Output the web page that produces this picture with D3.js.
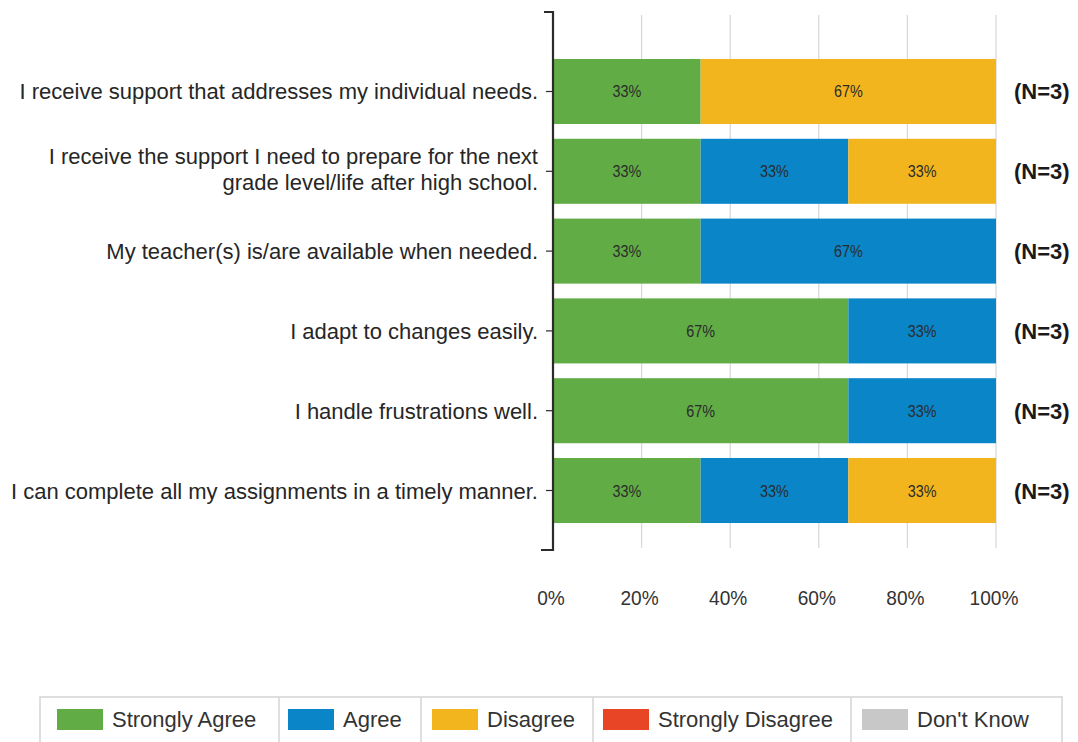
<!DOCTYPE html>
<html><head><meta charset="utf-8">
<script src="https://cdn.jsdelivr.net/npm/d3@7"></script>
<style>
html,body{margin:0;padding:0;background:#fff;}
svg{display:block;font-family:"Liberation Sans",Arial,sans-serif;}
</style></head>
<body>
<svg id="chart" width="1078" height="742"></svg>
<script>
const categories = [
  ["I receive support that addresses my individual needs."],
  ["I receive the support I need to prepare for the next","grade level/life after high school."],
  ["My teacher(s) is/are available when needed."],
  ["I adapt to changes easily."],
  ["I handle frustrations well."],
  ["I can complete all my assignments in a timely manner."]
];
const seriesNames = ["Strongly Agree","Agree","Disagree","Strongly Disagree","Don't Know"];
const seriesColors = ["#62ac46","#0a85c8","#f2b51e","#e84526","#c8c8c8"];
const stronglyAgree = [33.33,33.33,33.33,66.67,66.67,33.33];
const agree = [0,33.33,66.67,33.33,33.33,33.33];
const disagree = [66.67,33.33,0,0,0,33.33];
const stronglyDisagree = [0,0,0,0,0,0];
const dontKnow = [0,0,0,0,0,0];
const nLabels = ["(N=3)","(N=3)","(N=3)","(N=3)","(N=3)","(N=3)"];
const xTicks = [0,20,40,60,80,100];

const svg = d3.select("#chart");
const x0 = 553, x1 = 996, yTop = 12, yBot = 550;
const x = d3.scaleLinear().domain([0,100]).range([x0,x1]);
const idx = d3.range(categories.length);
const y = d3.scaleBand().domain(idx).range([51,531]).paddingInner(0.185).paddingOuter(0.1);

const rows = idx.map(i => ({i, v:[stronglyAgree[i],agree[i],disagree[i],stronglyDisagree[i],dontKnow[i]]}));
const stack = d3.stack().keys([0,1,2,3,4]).value((d,k)=>d.v[k]);
const stacked = stack(rows);

function narrowText(sel, px, py, sx){
  return sel.append("text").attr("transform",`translate(${px},${py}) scale(${sx},1)`);
}

// grid
svg.append("g").selectAll("line").data(xTicks.slice(1)).join("line")
  .attr("x1",d=>x(d)).attr("x2",d=>x(d)).attr("y1",yTop+3).attr("y2",yBot-2)
  .attr("stroke","#d9d9d9").attr("stroke-width",1.3);

// bars
const g = svg.append("g");
stacked.forEach((s,k)=>{
  const segs = s.filter(d=>d[1]-d[0]>0);
  g.append("g").selectAll("rect").data(segs).join("rect")
    .attr("x",d=>x(d[0])).attr("width",d=>x(d[1])-x(d[0]))
    .attr("y",d=>y(d.data.i)).attr("height",y.bandwidth())
    .attr("fill",seriesColors[k]);
  const tg = g.append("g").attr("font-size",16).attr("fill","#2b2b2b").attr("text-anchor","middle");
  segs.forEach(d=>{
    narrowText(tg,(x(d[0])+x(d[1]))/2, y(d.data.i)+y.bandwidth()/2+6, 0.9)
      .text(Math.round(d[1]-d[0])+"%");
  });
});

// y axis
const ax = svg.append("g");
ax.append("path").attr("d",`M${x0-9},${yTop}H${x0}V${yBot}H${x0-12}`)
  .attr("fill","none").attr("stroke","#2b2b2b").attr("stroke-width",2.2);
ax.selectAll("line.tk").data(idx).join("line").attr("class","tk")
  .attr("x1",x0-7).attr("x2",x0).attr("y1",d=>y(d)+y.bandwidth()/2).attr("y2",d=>y(d)+y.bandwidth()/2)
  .attr("stroke","#2b2b2b").attr("stroke-width",1.2);

// category labels
const lab = svg.append("g").attr("font-size",22).attr("fill","#262626").attr("text-anchor","end");
idx.forEach(i=>{
  const lines = categories[i];
  const cy = y(i)+y.bandwidth()/2;
  const lh = 26;
  lines.forEach((t,j)=>{
    lab.append("text").attr("x",538).attr("y",cy+8+(j-(lines.length-1)/2)*lh-(lines.length>1?2:0)).text(t);
  });
});

// N labels
svg.append("g").selectAll("text").data(idx).join("text")
  .attr("x",1014).attr("y",d=>y(d)+y.bandwidth()/2+8)
  .attr("font-size",22).attr("font-weight","bold").attr("fill","#1a1a1a")
  .text(d=>nLabels[d]);

// x tick labels
const xt = svg.append("g").attr("font-size",21).attr("fill","#333").attr("text-anchor","middle");
xTicks.forEach(d=>{
  narrowText(xt, x(d)-2, 605, 0.91).text(d+"%");
});

// legend
const leg = svg.append("g");
const legX = [40,279,421,593,851,1062];
const swOff = [17,9,11,10,11];
leg.append("rect").attr("x",40).attr("y",697).attr("width",1022).attr("height",60)
  .attr("fill","none").attr("stroke","#d4d4d4").attr("stroke-width",1.5);
legX.slice(1,5).forEach(v=>leg.append("line").attr("x1",v).attr("x2",v).attr("y1",697).attr("y2",742).attr("stroke","#d4d4d4").attr("stroke-width",1.5));
seriesNames.forEach((n,k)=>{
  const lx = legX[k]+swOff[k];
  leg.append("rect").attr("x",lx).attr("y",709).attr("width",46).attr("height",21).attr("fill",seriesColors[k]);
  leg.append("text").attr("x",lx+55).attr("y",727).attr("font-size",22).attr("fill","#333").text(n);
});
</script>
</body></html>
